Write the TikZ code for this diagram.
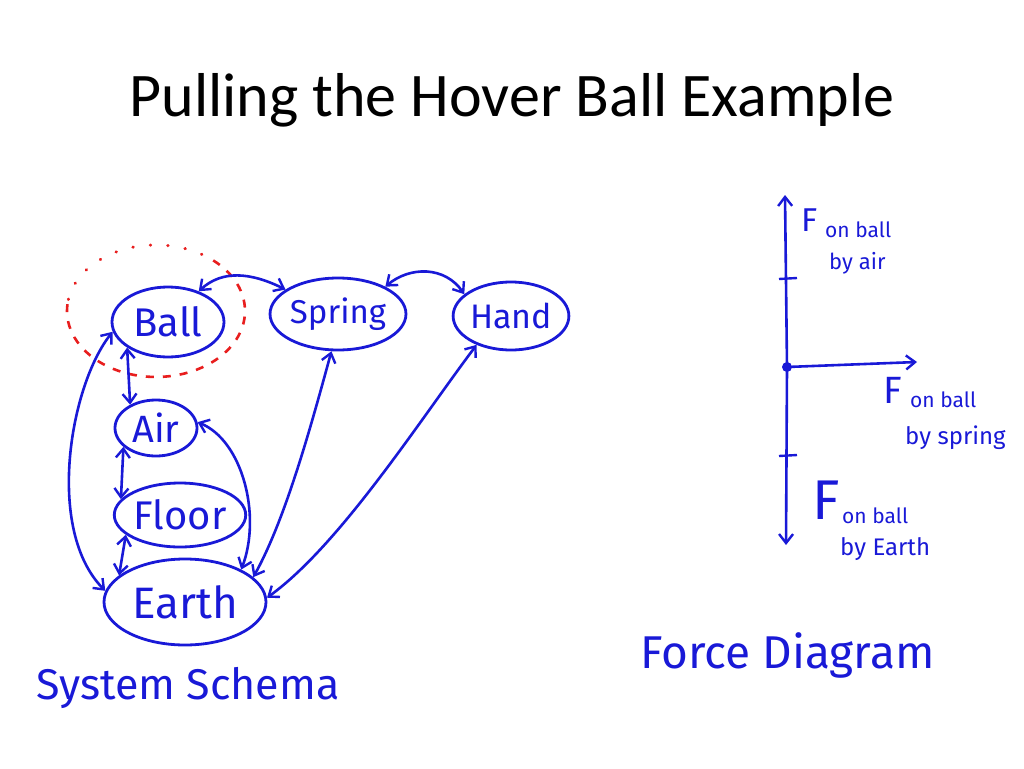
\documentclass[tikz,border=0pt]{standalone}
\usepackage{fontspec}
\setmainfont{Carlito}
\newfontfamily\hand{Fira Sans}
\usetikzlibrary{shapes.geometric,arrows.meta}
\definecolor{ink}{RGB}{25,25,215}
\definecolor{redink}{RGB}{232,30,30}
\newcommand{\hsz}[1]{\hand\fontsize{#1}{#1}\selectfont}
\begin{document}
\begin{tikzpicture}[x=1pt,y=-1pt,
  ent/.style={ellipse,draw=ink,line width=2.8pt,text=ink,inner sep=0pt},
  tip/.tip={Straight Barb[length=9pt,width=14pt,line width=2.4pt]},
  link/.style={draw=ink,line width=2.6pt,tip-tip},
  vec/.style={draw=ink,line width=2.6pt,-tip},
  tickline/.style={draw=ink,line width=2.4pt},
  lbl/.style={text=ink,inner sep=0pt,anchor=west},
  captext/.style={text=ink,inner sep=0pt,anchor=west}]
\useasboundingbox (0,0) rectangle (1024,768);
\node[font=\fontsize{62}{66}\selectfont,inner sep=0pt] (title) at (512,100) {Pulling the Hover Ball Example};

% system schema
\draw[redink,line width=2.6pt,dash pattern=on 8pt off 9pt] (213.2,260.4) arc[start angle=-50,end angle=190,x radius=89,y radius=66];
\draw[redink,line width=3pt,line cap=round,dash pattern=on 0.5pt off 17pt] (68.4,299.5) arc[start angle=190,end angle=310,x radius=89,y radius=66];
\node[ent,minimum width=112pt,minimum height=70pt,font=\hsz{40}] (ball) at (168,322) {Ball};
\node[ent,minimum width=135pt,minimum height=72pt,font=\hsz{33}] (spring) at (338,314) {Spring};
\node[ent,minimum width=111pt,minimum height=68pt,font=\hsz{34}] (hand) at (511,316) {Hand};
\node[ent,minimum width=82pt,minimum height=56pt,font=\hsz{38}] (air) at (156,428) {Air};
\node[ent,minimum width=128pt,minimum height=64pt,font=\hsz{40}] (floor) at (180,515) {Floor};
\node[ent,minimum width=162pt,minimum height=86pt,font=\hsz{44}] (earth) at (185,602) {Earth};

\draw[link] (ball.45) .. controls (222,270) and (250,272) .. (spring.155);
\draw[link] (spring.30) .. controls (410,266) and (445,266) .. (hand.155);
\draw[link] (ball.212) -- (air.138);
\draw[link] (air.210) -- (floor.165);
\draw[link] (floor.200) -- (earth.158);
\draw[link] (ball.190) .. controls (70,385) and (45,530) .. (earth.172);
\draw[link] (air.8) .. controls (242,440) and (262,515) .. (earth.30);
\draw[link] (spring.260) .. controls (310,430) and (285,520) .. (earth.20);
\draw[link] (hand.220) .. controls (420,420) and (340,545) .. (earth.3);

\node[captext,font=\hsz{43}] (ss) at (36,688) {System Schema};

% force diagram
\coordinate (o) at (787,367);
\coordinate (up) at (785,195);
\coordinate (dn) at (786,545);
\coordinate (rt) at (917,362);
\coordinate (t1a) at (779,279); \coordinate (t1b) at (797,278);
\coordinate (t2a) at (779,456); \coordinate (t2b) at (797,455);
\draw[vec] (o) -- (up);
\draw[vec] (o) -- (dn);
\draw[vec] (o) -- (rt);
\draw[tickline] (t1a) -- (t1b);
\draw[tickline] (t2a) -- (t2b);
\fill[ink] (o) circle (5);

\node[lbl,font=\hsz{33}] (fa) at (801,220) {F};
\node[lbl,font=\hsz{21}] (fas) at (825,230) {on ball};
\node[lbl,font=\hsz{22}] (fab) at (829,263) {by air};

\node[lbl,font=\hsz{38}] (fs) at (883,390) {F};
\node[lbl,font=\hsz{21}] (fss) at (910,400) {on ball};
\node[lbl,font=\hsz{24}] (fsb) at (905,438) {by spring};

\node[lbl,font=\hsz{56}] (fe) at (812,500) {F};
\node[lbl,font=\hsz{21}] (fes) at (842,516) {on ball};
\node[lbl,font=\hsz{24}] (feb) at (840,549) {by Earth};

\node[captext,font=\hsz{46}] (fd) at (640,655) {Force Diagram};
\end{tikzpicture}
\end{document}
